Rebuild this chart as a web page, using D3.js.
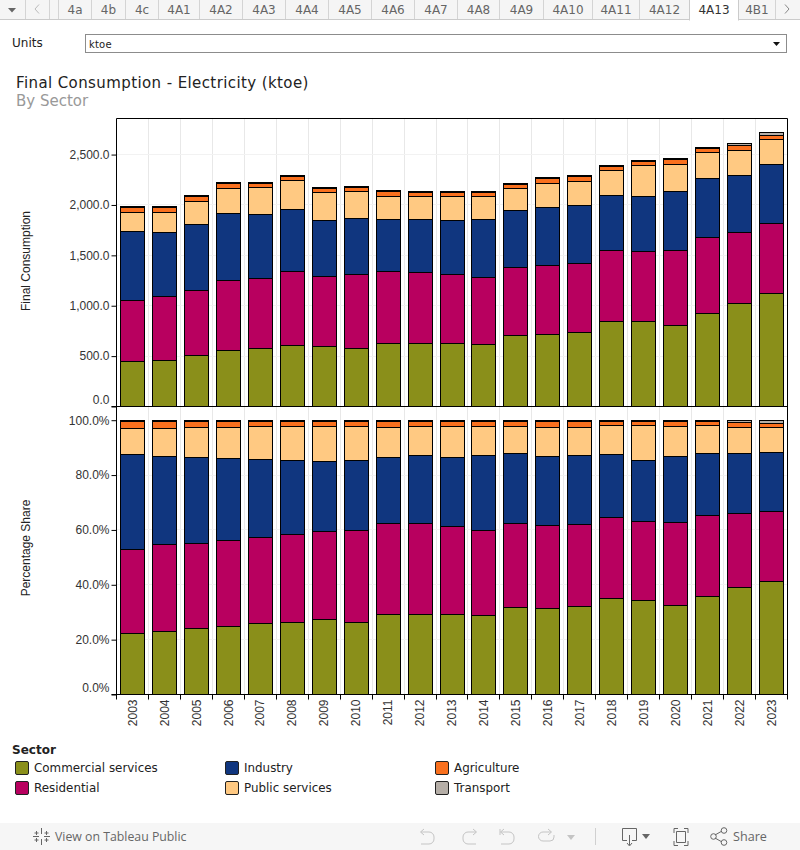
<!DOCTYPE html>
<html><head><meta charset="utf-8">
<script src="https://cdn.jsdelivr.net/npm/d3@7"></script>
<style>html,body{margin:0;padding:0;background:#fff;overflow:hidden}svg{display:block}</style>
</head><body><svg id="c" width="800" height="850"></svg>
<script>
const years=["2003","2004","2005","2006","2007","2008","2009","2010","2011","2012","2013","2014","2015","2016","2017","2018","2019","2020","2021","2022","2023"];
const sectors=["Commercial services","Residential","Industry","Public services","Agriculture","Transport"];
const sectorColors=["#8a8f1a","#b8005f","#10367f","#ffc982","#f9701e","#b5aea7"];
const commercial=[444,454,504,553,573,603,593,573,623,623,623,613,702,712,732,841,841,802,921,1020,1120];
const residential=[606,636,646,696,696,735,696,735,716,706,686,666,676,686,686,706,696,745,755,706,696];
const industry=[686,636,656,666,636,616,557,557,517,527,537,576,567,576,576,547,547,586,586,567,586];
const publicServices=[189,199,229,248,268,288,278,268,229,229,239,229,219,239,239,248,308,268,258,248,248];
const agriculture=[59,59,55,55,45,45,46,46,55,45,45,45,46,55,55,46,46,55,46,46,40];
const transport=[4,4,4,4,4,4,4,4,4,4,4,4,4,4,4,4,4,4,4,23,30];
const valueTicks=[0,500,1000,1500,2000,2500];
const shareTicks=[0,.2,.4,.6,.8,1];
const tabs=["4a","4b","4c","4A1","4A2","4A3","4A4","4A5","4A6","4A7","4A8","4A9","4A10","4A11","4A12","4A13","4B1"];
const tabEdges=[58,91,125,158,199,242,285,328,371,414,457,499,543,592,639,689,738,775];

const series=[commercial,residential,industry,publicServices,agriculture,transport];
const rows=years.map((y,i)=>{const r={year:y};sectors.forEach((s,k)=>r[s]=series[k][i]);return r;});
const svg=d3.select("#c");
const AX="'Liberation Sans',Arial,sans-serif",DV="'DejaVu Sans',sans-serif";
const L=116.5,R=787.5,T=118.5,M=406.5,B=694.5;

// tab strip
const tabG=svg.append("g").attr("font-family",DV).attr("font-size",12);
tabG.append("rect").attr("width",800).attr("height",19).attr("fill","#f5f5f5");
tabG.append("line").attr("x1",0).attr("x2",800).attr("y1",19.5).attr("y2",19.5).attr("stroke","#cbcbcb");
[25,49,58].concat(tabEdges).forEach(x=>tabG.append("line").attr("x1",x+.5).attr("x2",x+.5).attr("y1",0).attr("y2",19).attr("stroke","#d4d4d4"));
tabG.append("rect").attr("x",689.5).attr("y",-1).attr("width",49).attr("height",21).attr("fill","#fff").attr("stroke","#cbcbcb");
tabG.append("rect").attr("x",690).attr("y",19).attr("width",48).attr("height",2).attr("fill","#fff");
tabs.forEach((t,i)=>tabG.append("text").attr("x",(tabEdges[i]+tabEdges[i+1])/2+.5).attr("y",14).attr("text-anchor","middle").attr("fill",t==="4A13"?"#333":"#666").text(t));
tabG.append("path").attr("d","M8 8h8l-4 4.500z").attr("fill","#666");
tabG.append("path").attr("d","M39 4.500l-4 4.500 4 4.500").attr("fill","none").attr("stroke","#bbb");
tabG.append("path").attr("d","M785 4.500l4 4.500-4 4.500").attr("fill","none").attr("stroke","#888");

// filter
svg.append("text").attr("x",12).attr("y",47).attr("font-family",DV).attr("font-size",12).attr("fill","#222").text("Units");
svg.append("rect").attr("x",85.5).attr("y",34.5).attr("width",701).attr("height",18).attr("fill","#fff").attr("stroke","#8c8c8c");
svg.append("text").attr("x",89).attr("y",48).attr("font-family",DV).attr("font-size",10).attr("letter-spacing",.2).attr("fill","#222").text("ktoe");
svg.append("path").attr("d","M773 42h7l-3.500 4z").attr("fill","#111");

// titles
svg.append("text").attr("x",16).attr("y",88).attr("font-family",DV).attr("font-size",15).attr("letter-spacing",.4).attr("fill","#222").text("Final Consumption - Electricity (ktoe)");
svg.append("text").attr("x",16).attr("y",106).attr("font-family",DV).attr("font-size",15).attr("fill","#999").text("By Sector");

// scales
const x=d3.scaleBand().domain(years).range([L,R]).paddingInner(.25).paddingOuter(.125);
const yV=d3.scaleLinear().domain([0,2858]).range([M,T]);
const yS=d3.scaleLinear().domain([0,1.05]).range([B,M]);
const color=d3.scaleOrdinal().domain(sectors).range(sectorColors);
const snap=v=>Math.round(v-.5)+.5;

// grid
const grid=svg.append("g");
years.forEach((y,i)=>{ if(i===0)return; const gx=snap(x(y)-x.step()*.125);
  grid.append("line").attr("x1",gx).attr("x2",gx).attr("y1",T).attr("y2",B+6).attr("stroke","#e8e8e8");});
valueTicks.slice(1).forEach(v=>grid.append("line").attr("x1",L).attr("x2",R).attr("y1",snap(yV(v))).attr("y2",snap(yV(v))).attr("stroke","#f2f2f2"));
shareTicks.slice(1,5).forEach(v=>grid.append("line").attr("x1",L).attr("x2",R).attr("y1",snap(yS(v))).attr("y2",snap(yS(v))).attr("stroke","#f2f2f2"));

// bars
function bars(data,scale){
  const g=svg.append("g");
  g.selectAll("g").data(data).join("g").attr("fill",d=>color(d.key)).each(function(s){
    d3.select(this).selectAll("rect").data(s).join("rect")
      .attr("x",d=>snap(x(d.data.year)+.0))
      .attr("width",24)
      .attr("y",d=>snap(scale(d[1])))
      .attr("height",d=>Math.max(snap(scale(d[0]))-snap(scale(d[1])),1))
      .attr("stroke","#000").attr("stroke-width",1);
  });
}
bars(d3.stack().keys(sectors)(rows),yV);
bars(d3.stack().keys(sectors).offset(d3.stackOffsetExpand)(rows),yS);

// axes
function styleAxis(g){
  g.attr("font-family",AX).attr("font-size",12);
  g.selectAll("text").attr("fill","#333");
  g.selectAll(".tick line").attr("stroke","#000");
  g.select(".domain").remove();
}
const axV=svg.append("g").attr("transform",`translate(${L},0)`)
  .call(d3.axisLeft(yV).tickValues(valueTicks).tickSize(5).tickPadding(2).tickFormat(d3.format(",.1f"))).call(styleAxis);
axV.selectAll(".tick").filter(d=>d===0).select("text").attr("dy","-0.28em");
const axS=svg.append("g").attr("transform",`translate(${L},0)`)
  .call(d3.axisLeft(yS).tickValues(shareTicks).tickSize(5).tickPadding(2).tickFormat(d3.format(".1%"))).call(styleAxis);
axS.selectAll(".tick").filter(d=>d===0).select("text").attr("dy","-0.28em");
const axX=svg.append("g").attr("transform",`translate(0,${B})`)
  .call(d3.axisBottom(x).tickSize(0).tickPadding(0)).call(styleAxis);
axX.selectAll(".tick text").attr("transform","rotate(-90)").attr("text-anchor","end").attr("x",-5).attr("y",0).attr("dy","0.35em");

// frame
const frame=svg.append("g").attr("stroke","#000").attr("fill","none");
frame.append("line").attr("x1",L).attr("x2",L).attr("y1",T).attr("y2",B+5);
frame.append("line").attr("x1",R).attr("x2",R).attr("y1",T).attr("y2",B+5);
frame.append("line").attr("x1",L).attr("x2",R).attr("y1",T).attr("y2",T);
frame.append("line").attr("x1",L-5).attr("x2",R).attr("y1",M).attr("y2",M);
frame.append("line").attr("x1",L-5).attr("x2",R).attr("y1",B).attr("y2",B);
years.forEach((y,i)=>{ if(i===0)return; const gx=snap(x(y)-x.step()*.125);
  frame.append("line").attr("x1",gx).attr("x2",gx).attr("y1",B).attr("y2",B+5);});

// axis titles
[["Final Consumption",261],["Percentage Share",548]].forEach(([t,cy])=>
  svg.append("text").attr("transform",`translate(30,${cy}) rotate(-90)`).attr("text-anchor","middle").attr("font-family",AX).attr("font-size",12).attr("fill","#222").text(t));

// legend
svg.append("text").attr("x",12).attr("y",754).attr("font-family",DV).attr("font-size",12).attr("font-weight","bold").attr("fill","#222").text("Sector");
const legendCols=[15,225,435],legendRows=[761,781];
const lg=svg.append("g").selectAll("g").data(sectors).join("g")
  .attr("transform",(d,i)=>`translate(${legendCols[Math.floor(i/2)]},${legendRows[i%2]})`);
lg.append("rect").attr("x",.5).attr("y",.5).attr("width",13).attr("height",13).attr("rx",1.500).attr("fill",d=>color(d)).attr("stroke","#222");
lg.append("text").attr("x",19).attr("y",11).attr("font-family",DV).attr("font-size",11.9).attr("fill","#222").text(d=>d);

// footer
const f=svg.append("g");
f.append("rect").attr("y",823).attr("width",800).attr("height",27).attr("fill","#f6f6f6");
f.append("text").attr("x",55).attr("y",841).attr("font-family","'Open Sans',sans-serif").attr("font-size",12.3).attr("fill","#666").text("View on Tableau Public");
f.append("text").attr("x",733).attr("y",841).attr("font-family","'Open Sans',sans-serif").attr("font-size",12.6).attr("fill","#666").text("Share");
const ic=f.append("g").attr("fill","none").attr("stroke-width",1);
ic.append("path").attr("stroke","#666").attr("d","M41.500 828v6M41.500 839v6M33 836.500h6M44 836.500h6M36.500 831v4M34.500 833h4M46.500 831v4M44.500 833h4M36.500 838v4M34.500 840h4M46.500 838v4M44.500 840h4");
ic.append("path").attr("stroke","#c4c4c4").attr("d","M421 832h8a5 5 0 0 1 5 5v2a5 5 0 0 1-5 5h-8M424 829l-3.500 3 3.500 3");
ic.append("path").attr("stroke","#c4c4c4").attr("d","M476 832h-8a5 5 0 0 0-5 5v2a5 5 0 0 0 5 5h8M473 829l3.500 3-3.500 3");
ic.append("path").attr("stroke","#c4c4c4").attr("d","M501 832h8a5 5 0 0 1 5 5v2a5 5 0 0 1-5 5h-8M504 829l-3.500 3 3.500 3M500 829v6");
ic.append("path").attr("stroke","#c4c4c4").attr("d","M551 832h-8a4 4 0 0 0 0 9h7a4 4 0 0 0 4-4v-2M548 829l3.500 3-3.500 3");
f.append("path").attr("d","M567 835h8l-4 5z").attr("fill","#c4c4c4");
f.append("line").attr("x1",595.500).attr("x2",595.500).attr("y1",828).attr("y2",845).attr("stroke","#d0d0d0");
const ic2=f.append("g").attr("fill","none").attr("stroke","#666");
ic2.append("path").attr("d","M627 840.500h-4.500v-12h14v12h-4.500M629.500 835v10M627 843l2.500 3 2.500-3");
f.append("path").attr("d","M642 834h8l-4 5z").attr("fill","#666");
ic2.append("path").attr("d","M674 833v-4.500h4M684 828.500h4v4.500M688 841v4.500h-4M678 845.500h-4v-4.500M676.500 831.500h9v11h-9z");
ic2.append("path").attr("d","M715 835l7-4M715 838l7 4");
ic2.append("circle").attr("cx",724).attr("cy",830.500).attr("r",2.800);
ic2.append("circle").attr("cx",724).attr("cy",842.500).attr("r",2.800);
ic2.append("circle").attr("cx",713.500).attr("cy",836.500).attr("r",2.800);
</script></body></html>
